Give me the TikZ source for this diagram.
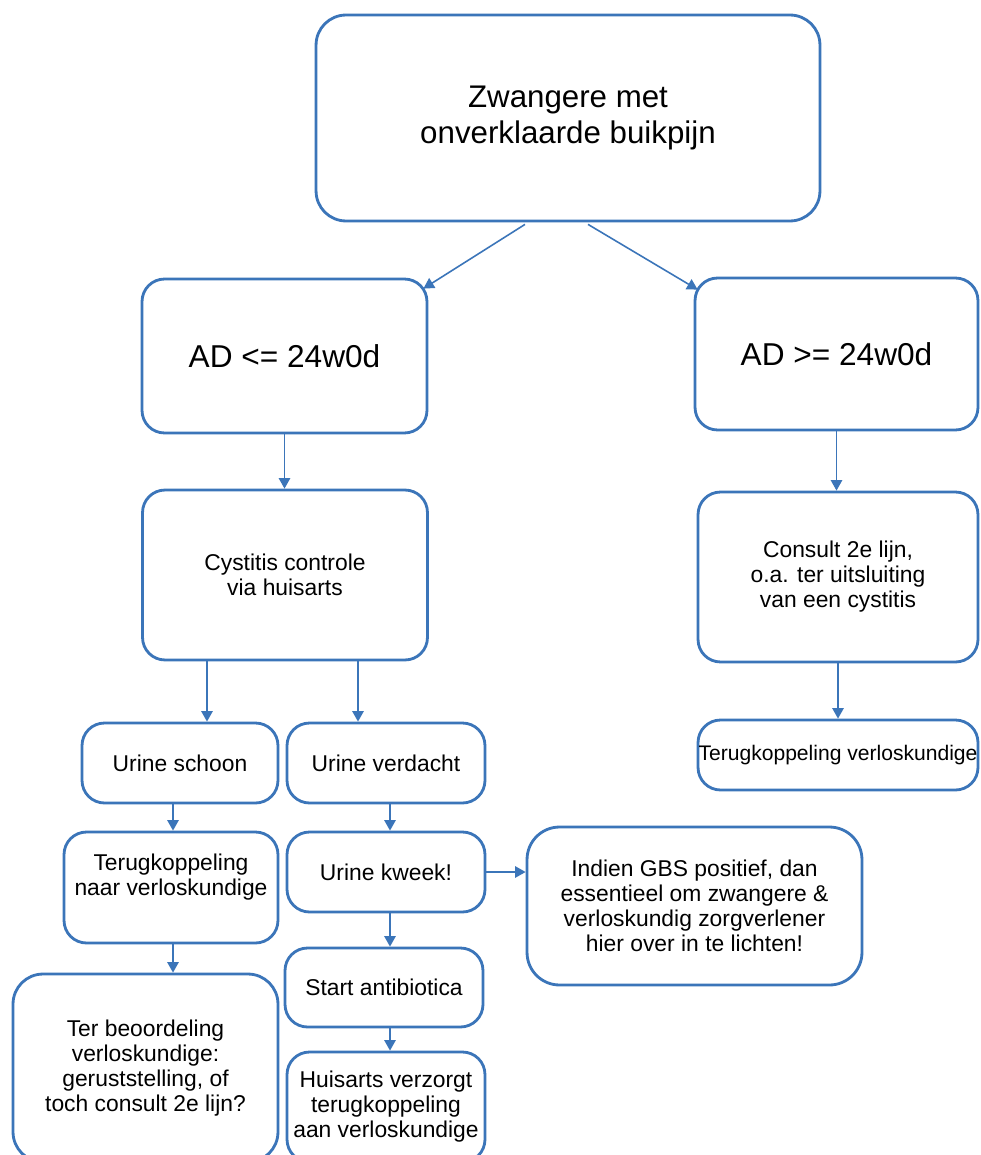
\documentclass[tikz,border=0pt]{standalone}
\usepackage{fontspec}
\setmainfont{Liberation Sans}
\usetikzlibrary{arrows.meta,calc}
\definecolor{lijnblauw}{HTML}{3B75B9}
\tikzset{
 blok/.style={draw=lijnblauw,line width=1.6pt,rounded corners=0.45cm,align=center,inner sep=2pt,font=\fontsize{13}{14.2}\selectfont},
 pijl/.style={draw=lijnblauw,line width=0.9pt,-{Triangle[length=6pt,width=6.5pt]}}
}

\begin{document}
\begin{tikzpicture}[x=0.02cm,y=-0.02cm]
 \clip (0,0) rectangle (980,1155);
 \fill[white] (0,0) rectangle (980,1155);
 % bovenste niveau
 \node[blok,minimum width=10.08cm,minimum height=4.12cm,rounded corners=0.6cm,font=\fontsize{17.8}{20}\selectfont] (start) at (568,118) {Zwangere met\\onverklaarde buikpijn};
 \node[blok,minimum width=5.7cm,minimum height=3.08cm,font=\fontsize{18}{20}\selectfont] (ad1) at (284.5,356) {AD <= 24w0d};
 \node[blok,minimum width=5.66cm,minimum height=3.04cm,font=\fontsize{18}{20}\selectfont] (ad2) at (836.5,354) {AD >= 24w0d};
 % tweede niveau
 \node[blok,minimum width=5.7cm,minimum height=3.4cm] (cys) at (285,575) {Cystitis controle\\via huisarts};
 \node[blok,minimum width=5.6cm,minimum height=3.4cm] (cons) at (838,577) {Consult 2e lijn,\\o.a. ter uitsluiting\\van een cystitis};
 \node[blok,minimum width=5.6cm,minimum height=1.4cm,inner xsep=0pt,font=\fontsize{12}{14}\selectfont] (terR) at (838,755) {Terugkoppeling verloskundige};
 % urine
 \node[blok,minimum width=3.92cm,minimum height=1.6cm] (us) at (180,763) {Urine schoon};
 \node[blok,minimum width=3.96cm,minimum height=1.6cm] (uv) at (386,763) {Urine verdacht};
 \node[blok,minimum width=4.28cm,minimum height=2.22cm] (tkn) at (171,887.5) {Terugkoppeling\\naar verloskundige\\\mbox{}};
 \node[blok,minimum width=3.96cm,minimum height=1.6cm] (uk) at (386,872) {Urine kweek!};
 \node[blok,minimum width=6.7cm,minimum height=3.16cm,rounded corners=0.65cm] (gbs) at (694.5,906) {Indien GBS positief, dan\\essentieel om zwangere \&\\verloskundig zorgverlener\\hier over in te lichten!};
 \node[blok,minimum width=3.96cm,minimum height=1.58cm] (sa) at (384,987.5) {Start antibiotica};
 \node[blok,minimum width=5.3cm,minimum height=3.76cm,rounded corners=0.6cm] (ter) at (145.5,1068) {Ter beoordeling\\verloskundige:\\geruststelling, of\\toch consult 2e lijn?};
 \node[blok,minimum width=3.96cm,minimum height=2.2cm,inner xsep=0pt] (hui) at (386,1107) {Huisarts verzorgt\\terugkoppeling\\aan verloskundige};
 % pijlen
 \draw[pijl] ($(start.south)+(-43,2)$) -- ($(ad1.north east)+(-5,11)$);
 \draw[pijl] ($(start.south)+(20,2)$) -- ($(ad2.north west)+(4,13)$);
 \draw[pijl] (ad1.south) -- (ad1.south |- cys.north);
 \draw[pijl] (ad2.south) -- (ad2.south |- cons.north);
 \draw[pijl] (cons.south) -- (cons.south |- terR.north);
 \coordinate (k1) at ($(cys.south)+(-78,0)$);
 \coordinate (k2) at ($(cys.south)+(73,0)$);
 \coordinate (k3) at ($(us.south)+(-7,0)$);
 \coordinate (k4) at ($(uv.south)+(4,0)$);
 \draw[pijl] (k1) -- (k1 |- us.north);
 \draw[pijl] (k2) -- (k2 |- uv.north);
 \draw[pijl] (k3) -- (k3 |- tkn.north);
 \draw[pijl] (k3 |- tkn.south) -- (k3 |- ter.north);
 \draw[pijl] (k4) -- (k4 |- uk.north);
 \draw[pijl] (k4 |- uk.south) -- (k4 |- sa.north);
 \draw[pijl] (k4 |- sa.south) -- (k4 |- hui.north);
 \draw[pijl] (uk.east) -- (uk.east -| gbs.west);
\end{tikzpicture}
\end{document}
